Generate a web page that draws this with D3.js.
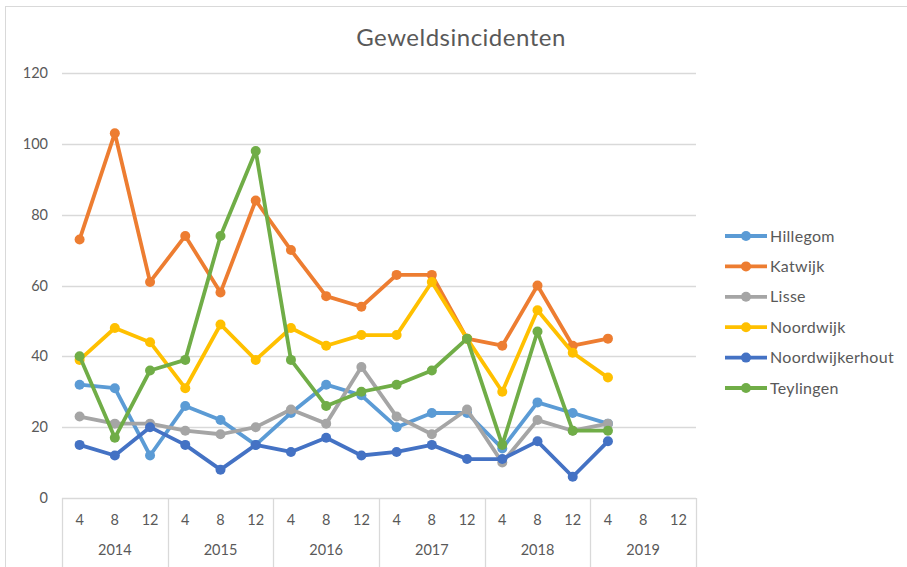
<!DOCTYPE html>
<html>
<head>
<meta charset="utf-8">
<script src="https://cdn.jsdelivr.net/npm/d3@7"></script>
<style>
  body { margin: 0; background: #fff; }
  text { font-family: Lato, "Open Sans", sans-serif; fill: #595959; }
</style>
</head>
<body>
<div id="chart"></div>
<script>
// data
let years = ['2014', '2015', '2016', '2017', '2018', '2019'];
let months = ['4', '8', '12'];
let yTicks = [0, 20, 40, 60, 80, 100, 120];

let hillegom        = [32, 31, 12, 26, 22, 15, 24, 32, 29, 20, 24, 24, 14, 27, 24, 21];
let katwijk         = [73, 103, 61, 74, 58, 84, 70, 57, 54, 63, 63, 45, 43, 60, 43, 45];
let lisse           = [23, 21, 21, 19, 18, 20, 25, 21, 37, 23, 18, 25, 10, 22, 19, 21];
let noordwijk       = [39, 48, 44, 31, 49, 39, 48, 43, 46, 46, 61, 45, 30, 53, 41, 34];
let noordwijkerhout = [15, 12, 20, 15, 8, 15, 13, 17, 12, 13, 15, 11, 11, 16, 6, 16];
let teylingen       = [40, 17, 36, 39, 74, 98, 39, 26, 30, 32, 36, 45, 15, 47, 19, 19];

let seriesNames = ['Hillegom', 'Katwijk', 'Lisse', 'Noordwijk', 'Noordwijkerhout', 'Teylingen'];
let seriesValues = [hillegom, katwijk, lisse, noordwijk, noordwijkerhout, teylingen];
let seriesColors = ['#5b9bd5', '#ed7d31', '#a5a5a5', '#ffc000', '#4472c4', '#70ad47'];

let W = 907, H = 567;
let margin = {top: 73, left: 62, right: 211, bottom: 69};
let width = W - margin.left - margin.right,
    height = H - margin.top - margin.bottom;

// one slot per year/month pair
let slots = [];
years.forEach(function(y) { months.forEach(function(m) { slots.push(y + '-' + m); }); });

let svg = d3.select('#chart').append('svg')
    .attr('width', W).attr('height', H);

// chart frame
svg.append('rect')
    .attr('x', 5.5).attr('y', 6.5)
    .attr('width', W + 10).attr('height', H + 10)
    .attr('fill', 'none').attr('stroke', '#d9d9d9');

svg.append('text')
    .attr('x', 461).attr('y', 46)
    .attr('text-anchor', 'middle')
    .style('font-size', '24px')
    .style('letter-spacing', '0.5px')
    .text('Geweldsincidenten');

let g = svg.append('g')
    .attr('transform', 'translate(' + margin.left + ',' + margin.top + ')');

let x = d3.scaleBand().domain(slots).range([0, width]);
let xYear = d3.scaleBand().domain(years).range([0, width]);
let y = d3.scaleLinear().domain([0, 120]).range([height, 0]);

// gridlines
g.append('g')
  .selectAll('line')
  .data(yTicks.filter(function(d) { return d > 0; }))
  .enter().append('line')
    .attr('x1', 0).attr('x2', width)
    .attr('y1', function(d) { return Math.round(y(d)) + 0.5; })
    .attr('y2', function(d) { return Math.round(y(d)) + 0.5; })
    .attr('stroke', '#d9d9d9').attr('stroke-width', 1.3);

// y labels
g.append('g')
  .selectAll('text')
  .data(yTicks)
  .enter().append('text')
    .attr('x', -14)
    .attr('y', function(d) { return y(d); })
    .attr('dy', '0.35em')
    .attr('text-anchor', 'end')
    .style('font-size', '14.5px')
    .text(function(d) { return d; });

// x axis with two rows
g.append('line')
    .attr('x1', 0).attr('x2', width)
    .attr('y1', height + 0.5).attr('y2', height + 0.5)
    .attr('stroke', '#d9d9d9').attr('stroke-width', 1.3);

g.append('g')
  .selectAll('line')
  .data(years.concat(['end']))
  .enter().append('line')
    .attr('x1', function(d, i) { return Math.round(i * xYear.bandwidth()) + 0.5; })
    .attr('x2', function(d, i) { return Math.round(i * xYear.bandwidth()) + 0.5; })
    .attr('y1', height).attr('y2', H)
    .attr('stroke', '#d9d9d9').attr('stroke-width', 1.3);

g.append('g')
  .selectAll('text')
  .data(slots)
  .enter().append('text')
    .attr('x', function(d) { return x(d) + x.bandwidth() / 2; })
    .attr('y', height + 22)
    .attr('dy', '0.35em')
    .attr('text-anchor', 'middle')
    .style('font-size', '14.5px')
    .text(function(d) { return d.split('-')[1]; });

g.append('g')
  .selectAll('text')
  .data(years)
  .enter().append('text')
    .attr('x', function(d) { return xYear(d) + xYear.bandwidth() / 2; })
    .attr('y', height + 52)
    .attr('dy', '0.35em')
    .attr('text-anchor', 'middle')
    .style('font-size', '14.5px')
    .text(function(d) { return d; });

// the lines
let line = d3.line()
    .x(function(d, i) { return x(slots[i]) + x.bandwidth() / 2; })
    .y(function(d) { return y(d); });

seriesValues.forEach(function(vals, k) {
  let s = g.append('g');
  s.append('path')
      .datum(vals)
      .attr('d', line)
      .attr('fill', 'none')
      .attr('stroke', seriesColors[k])
      .attr('stroke-width', 3.8)
      .attr('stroke-linejoin', 'round');
  s.selectAll('circle')
    .data(vals)
    .enter().append('circle')
      .attr('cx', function(d, i) { return x(slots[i]) + x.bandwidth() / 2; })
      .attr('cy', function(d) { return y(d); })
      .attr('r', 5)
      .attr('fill', seriesColors[k]);
});

// legend
let legend = svg.append('g')
    .attr('transform', 'translate(725,236)');
let rows = legend.selectAll('g')
  .data(seriesNames)
  .enter().append('g')
    .attr('transform', function(d, i) { return 'translate(0,' + (i * 30.4) + ')'; });
rows.append('line')
    .attr('x1', 0).attr('x2', 42)
    .attr('stroke', function(d, i) { return seriesColors[i]; })
    .attr('stroke-width', 3.8);
rows.append('circle')
    .attr('cx', 21).attr('r', 5)
    .attr('fill', function(d, i) { return seriesColors[i]; });
rows.append('text')
    .attr('x', 45)
    .attr('dy', '0.35em')
    .style('font-size', '16px')
    .style('letter-spacing', '0.3px')
    .text(function(d) { return d; });
</script>
</body>
</html>
